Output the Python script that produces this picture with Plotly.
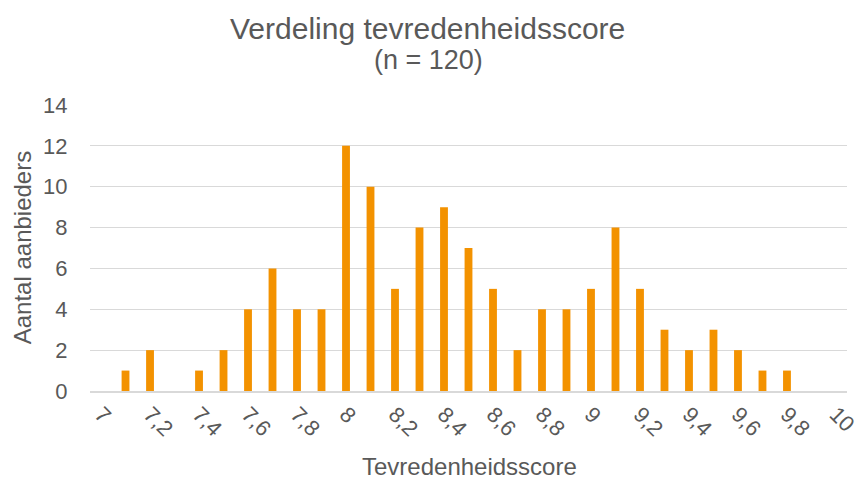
import plotly.graph_objects as go

scores = [7.1, 7.2, 7.4, 7.5, 7.6, 7.7, 7.8, 7.9, 8.0, 8.1, 8.2, 8.3, 8.4, 8.5,
          8.6, 8.7, 8.8, 8.9, 9.0, 9.1, 9.2, 9.3, 9.4, 9.5, 9.6, 9.7, 9.8]
counts = [1, 2, 1, 2, 4, 6, 4, 4, 12, 10, 5, 8, 9, 7,
          5, 2, 4, 4, 5, 8, 5, 3, 2, 3, 2, 1, 1]
tick_vals = [7.0, 7.2, 7.4, 7.6, 7.8, 8.0, 8.2, 8.4, 8.6, 8.8, 9.0, 9.2, 9.4, 9.6, 9.8, 10.0]
tick_text = ["7", "7,2", "7,4", "7,6", "7,8", "8", "8,2", "8,4", "8,6", "8,8",
             "9", "9,2", "9,4", "9,6", "9,8", "10"]

GREY = "#595959"
FONT = "Liberation Sans, Arial, sans-serif"

OFF = 8  # page body margin
PLOT_LEFT, PLOT_RIGHT = 90, 850
PLOT_TOP, PLOT_BOTTOM = 105, 391
W = PLOT_RIGHT - PLOT_LEFT
H = PLOT_BOTTOM - PLOT_TOP


def py(pix):
    return (PLOT_BOTTOM - pix) / H


def px(pix):
    return (pix - PLOT_LEFT) / W


fig = go.Figure(go.Bar(x=scores, y=counts, width=0.032,
                       marker=dict(color="#F39200", line=dict(width=0))))

fig.update_layout(
    width=864, height=481,
    margin=dict(l=PLOT_LEFT - OFF, r=864 + OFF - PLOT_RIGHT,
                t=PLOT_TOP - OFF, b=481 + OFF - PLOT_BOTTOM),
    paper_bgcolor="white", plot_bgcolor="white",
    font=dict(family=FONT, color=GREY, size=22),
    showlegend=False,
    separators=",.",
)
fig.add_annotation(text="Verdeling tevredenheidsscore", xref="paper", yref="paper",
                   x=px(429), y=py(28), showarrow=False,
                   font=dict(size=30, color=GREY), yanchor="middle")
fig.add_annotation(text="(n = 120)", xref="paper", yref="paper",
                   x=px(430), y=py(60), showarrow=False,
                   font=dict(size=27, color=GREY), yanchor="middle")
fig.add_annotation(text="Tevredenheidsscore", xref="paper", yref="paper",
                   x=px(471), y=py(466), showarrow=False,
                   font=dict(size=24, color=GREY), yanchor="middle")
fig.add_annotation(text="Aantal aanbieders", xref="paper", yref="paper",
                   x=px(22), y=py(248), showarrow=False, textangle=-90,
                   font=dict(size=24, color=GREY), xanchor="center", yanchor="middle")

fig.update_xaxes(range=[6.955, 10.045], tickvals=tick_vals, ticktext=tick_text,
                 tickangle=45, showgrid=False, zeroline=False,
                 showline=True, linecolor="#D9D9D9", linewidth=1.5,
                 ticks="", tickfont=dict(size=22, color=GREY))
fig.update_yaxes(range=[0, 14], dtick=2, showgrid=True, gridcolor="#D9D9D9", gridwidth=1,
                 zeroline=False, showline=False, ticks="outside", ticklen=17,
                 tickcolor="rgba(0,0,0,0)",
                 tickfont=dict(size=22, color=GREY))

fig.write_html("out.html")
